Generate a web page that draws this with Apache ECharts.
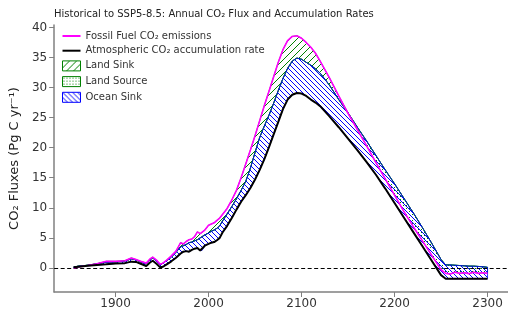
<!DOCTYPE html>
<html>
<head>
<meta charset="utf-8">
<script src="https://cdn.jsdelivr.net/npm/echarts@6/dist/echarts.min.js"></script>
<style>
  html, body { margin: 0; padding: 0; background: #fff; }
  #chart { width: 508px; height: 313px; }
</style>
</head>
<body>
<div id="chart"></div>
<script>
// years
const years = [1855, 1860, 1870, 1880, 1890, 1900, 1910, 1917, 1922, 1927, 1933, 1937, 1940, 1944, 1948, 1951, 1955,
  1960, 1965, 1970, 1973, 1976, 1979, 1982, 1985, 1988, 1991, 1993, 1996, 2000, 2003, 2006, 2009, 2012, 2015,
  2020, 2025, 2030, 2035, 2040, 2045, 2050, 2055, 2060, 2065, 2070, 2075, 2080, 2085, 2090, 2095, 2100, 2105,
  2110, 2115, 2120, 2130, 2140, 2150, 2160, 2170, 2180, 2190, 2200, 2210, 2220, 2230, 2240, 2250,
  2255, 2260, 2265, 2270, 2275, 2280, 2285, 2290, 2295, 2300];

// fossil fuel emissions (magenta)
const fossil = [0.0, 0.15, 0.4, 0.7, 1.1, 1.1, 1.2, 1.65, 1.4, 1.1, 0.8, 1.5, 1.8, 1.3, 0.6, 0.8, 1.3,
  2.0, 2.8, 4.2, 4.0, 4.4, 4.7, 4.8, 5.2, 6.0, 5.7, 5.9, 6.3, 7.1, 7.3, 7.5, 7.9, 8.3, 8.9,
  9.9, 11.3, 12.9, 15.0, 17.3, 19.6, 22.0, 24.5, 27.0, 29.4, 31.8, 34.2, 36.3, 37.8, 38.5, 38.6, 38.2, 37.5,
  36.7, 35.7, 34.4, 31.6, 28.6, 25.7, 23.0, 20.3, 17.5, 14.8, 12.1, 9.4, 6.9, 4.5, 2.1, -0.3,
  -0.9, -1.0, -0.7, -0.9, -0.8, -0.95, -0.7, -0.9, -0.8, -0.9];

// atmospheric accumulation rate (black)
const atmosphere = [0.1, 0.2, 0.35, 0.5, 0.6, 0.75, 0.8, 1.05, 1.0, 0.7, 0.3, 0.9, 1.2, 0.7, 0.1, 0.2, 0.6,
  1.1, 1.7, 2.4, 2.7, 2.8, 2.7, 3.0, 3.2, 3.3, 2.9, 2.9, 3.7, 4.0, 4.2, 4.3, 4.6, 5.0, 5.9,
  7.0, 8.3, 9.7, 11.0, 12.1, 13.3, 14.7, 16.3, 18.1, 20.1, 22.2, 24.3, 26.4, 28.0, 28.8, 29.1, 29.0, 28.6,
  28.0, 27.5, 26.9, 25.2, 23.4, 21.5, 19.6, 17.6, 15.5, 13.2, 10.8, 8.4, 6.0, 3.6, 1.2, -1.2,
  -1.8, -1.8, -1.8, -1.8, -1.8, -1.8, -1.8, -1.8, -1.8, -1.8];

// atmosphere + ocean sink (top edge of the blue band)
const atmPlusOcean = [0.15, 0.3, 0.45, 0.7, 0.95, 1.0, 1.15, 1.5, 1.35, 1.0, 0.65, 1.35, 1.65, 1.15, 0.5, 0.8, 1.2,
  1.8, 2.6, 3.5, 3.7, 3.9, 4.2, 4.3, 4.5, 4.7, 5.0, 5.2, 5.5, 5.8, 6.1, 6.3, 6.6, 7.0, 7.8,
  9.0, 10.2, 11.5, 12.9, 14.4, 16.6, 19.2, 21.7, 23.6, 25.4, 27.4, 29.5, 31.5, 33.2, 34.4, 34.9, 34.7, 34.2,
  33.7, 33.1, 32.4, 30.4, 28.0, 25.8, 23.4, 21.1, 18.7, 16.3, 14.0, 11.6, 9.2, 6.7, 4.1, 1.4,
  0.5, 0.5, 0.45, 0.4, 0.35, 0.3, 0.3, 0.25, 0.2, 0.1];

const xTicks = [1900, 2000, 2100, 2200, 2300];
const yTicks = [0, 5, 10, 15, 20, 25, 30, 35, 40];

// bands as [year, lower, upper]
const oceanBand = years.map((y, i) => [y, atmosphere[i], atmPlusOcean[i]]);
const landSinkBand = years.map((y, i) => [y, atmPlusOcean[i], Math.max(fossil[i], atmPlusOcean[i])]);
const landSourceBand = years.map((y, i) => [y, Math.min(fossil[i], atmPlusOcean[i]), atmPlusOcean[i]]);
const pair = arr => arr.map((v, i) => [years[i], v]);

function hatch(dir, p, color) {
  const c = document.createElement('canvas');
  c.width = p; c.height = p;
  const g = c.getContext('2d');
  g.strokeStyle = color;
  g.lineWidth = 1;
  g.beginPath();
  if (dir === '\\') {
    g.moveTo(-1, -1); g.lineTo(p + 1, p + 1);
    g.moveTo(-2, p - 2); g.lineTo(2, p + 2);
    g.moveTo(p - 2, -2); g.lineTo(p + 2, 2);
  } else {
    g.moveTo(-1, p + 1); g.lineTo(p + 1, -1);
    g.moveTo(-2, 2); g.lineTo(2, -2);
    g.moveTo(p - 2, p + 2); g.lineTo(p + 2, p - 2);
  }
  g.stroke();
  return { image: c, repeat: 'repeat' };
}

function dots(p, color) {
  const c = document.createElement('canvas');
  c.width = p; c.height = p;
  const g = c.getContext('2d');
  g.fillStyle = color;
  g.fillRect(1, 1, 1, 1);
  return { image: c, repeat: 'repeat' };
}

const oceanFill = hatch('\\', 5, '#0000ff');
const landFill = hatch('/', 7, '#008000');
const sourceFill = dots(3, '#008000');

// one polygon per band: upper edge forward, lower edge back
function bandRenderer(fill, edge) {
  return function (params, api) {
    if (params.dataIndexInside !== 0) return null;
    const n = params.dataInsideLength;
    const upper = [], lower = [];
    for (let j = 0; j < n; j++) {
      upper.push(api.coord([api.value(0, j), api.value(2, j)]));
      lower.push(api.coord([api.value(0, j), api.value(1, j)]));
    }
    return {
      type: 'polygon',
      shape: { points: upper.concat(lower.reverse()) },
      style: { fill: fill, stroke: edge, lineWidth: 0.8 }
    };
  };
}

const FONT = 'DejaVu Sans';
const LINE_ICON = 'path://M0,0 L18,0 L18,2 L0,2 Z';
const chart = echarts.init(document.getElementById('chart'));

const option = {
  animation: false,
  backgroundColor: '#fff',
  title: {
    text: 'Historical to SSP5-8.5: Annual CO₂ Flux and Accumulation Rates',
    left: 49, top: 4,
    textStyle: { fontFamily: FONT, fontSize: 10, fontWeight: 'normal', color: '#222' }
  },
  grid: { left: 54, top: 25, right: -5, bottom: 21 },
  legend: {
    orient: 'vertical', left: 57, top: 26,
    itemWidth: 18, itemHeight: 10, itemGap: 4.7,
    textStyle: { fontFamily: FONT, fontSize: 10, color: '#333' },
    data: [
      { name: 'Fossil Fuel CO₂ emissions', icon: LINE_ICON, itemStyle: { color: '#ff00ff' } },
      { name: 'Atmospheric CO₂ accumulation rate', icon: LINE_ICON, itemStyle: { color: '#000' } },
      { name: 'Land Sink', icon: 'rect', itemStyle: { color: landFill, borderColor: '#008000', borderWidth: 1 } },
      { name: 'Land Source', icon: 'rect', itemStyle: { color: sourceFill, borderColor: '#008000', borderWidth: 1 } },
      { name: 'Ocean Sink', icon: 'rect', itemStyle: { color: oceanFill, borderColor: '#0000ff', borderWidth: 1 } }
    ]
  },
  xAxis: {
    type: 'value', min: 1834, max: 2322,
    splitLine: { show: false },
    axisLine: { onZero: false, lineStyle: { color: '#808080', width: 1.5 } },
    axisTick: { customValues: xTicks, length: 5, lineStyle: { color: '#808080' } },
    axisLabel: { customValues: xTicks, margin: 6, fontFamily: FONT, fontSize: 12, color: '#333',
      formatter: v => String(v) }
  },
  yAxis: {
    type: 'value', min: -4, max: 40.4,
    name: 'CO₂ Fluxes (Pg C yr⁻¹)', nameLocation: 'middle', nameGap: 30,
    nameTextStyle: { fontFamily: FONT, fontSize: 13, color: '#222' },
    splitLine: { show: false },
    axisLine: { show: true, onZero: false, lineStyle: { color: '#808080', width: 1.5 } },
    axisTick: { show: true, customValues: yTicks, length: 5, lineStyle: { color: '#808080' } },
    axisLabel: { customValues: yTicks, margin: 7, fontFamily: FONT, fontSize: 12, color: '#333' }
  },
  series: [
    {
      name: 'Land Sink', type: 'custom', data: landSinkBand, z: 2, clip: true,
      itemStyle: { color: '#008000' },
      renderItem: bandRenderer(landFill, '#008000')
    },
    {
      name: 'Land Source', type: 'custom', data: landSourceBand, z: 2, clip: true,
      itemStyle: { color: '#008000' },
      renderItem: bandRenderer(sourceFill, '#008000')
    },
    {
      name: 'Ocean Sink', type: 'custom', data: oceanBand, z: 3, clip: true,
      itemStyle: { color: '#0000ff' },
      renderItem: bandRenderer(oceanFill, '#0000ff')
    },
    {
      name: 'Fossil Fuel CO₂ emissions', type: 'line',
      data: pair(fossil), symbol: 'none', z: 5,
      lineStyle: { color: '#ff00ff', width: 1.6 }, itemStyle: { color: '#ff00ff' },
      markLine: {
        silent: true, symbol: 'none', label: { show: false },
        lineStyle: { color: '#000', type: [4, 2.5], width: 1 },
        data: [{ yAxis: 0 }]
      }
    },
    {
      name: 'Atmospheric CO₂ accumulation rate', type: 'line',
      data: pair(atmosphere), symbol: 'none', z: 6,
      lineStyle: { color: '#000', width: 2 }, itemStyle: { color: '#000' }
    }
  ]
};
chart.setOption(option);
</script>
</body>
</html>
